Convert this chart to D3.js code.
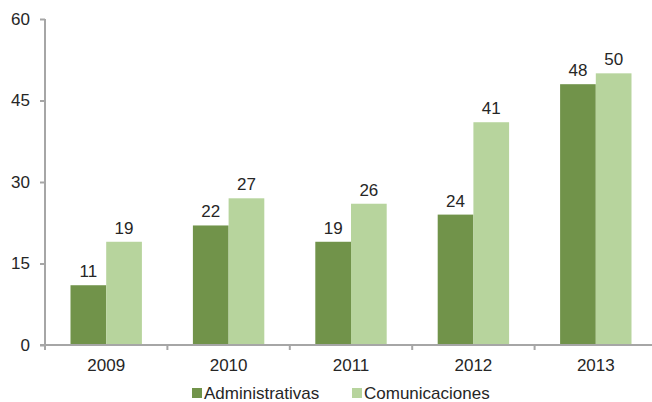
<!DOCTYPE html>
<html>
<head>
<meta charset="utf-8">
<script src="https://cdn.jsdelivr.net/npm/d3@7"></script>
<style>
  body { margin: 0; background: #fff; }
  text { font-family: "Liberation Sans", Arial, sans-serif; fill: #262626; }
</style>
</head>
<body>
<div id="chart"></div>
<script>
var years = ["2009", "2010", "2011", "2012", "2013"];
var administrativas = [11, 22, 19, 24, 48];
var comunicaciones = [19, 27, 26, 41, 50];
var seriesNames = ["Administrativas", "Comunicaciones"];
var yTicks = [0, 15, 30, 45, 60];

var width = 652, height = 402,
    mLeft = 45, mRight = 657, mTop = 19, mBottom = 345;
var colors = ["#71934a", "#b7d49d"];
var fs = "17px";

var svg = d3.select("#chart").append("svg")
    .attr("width", width)
    .attr("height", height);

var x = d3.scaleBand().domain(years).range([mLeft, mRight]).paddingInner(0).paddingOuter(0);
var x1 = d3.scaleBand().domain(seriesNames).range([25.5, x.bandwidth() - 25.5]);
var y = d3.scaleLinear().domain([0, 60]).range([mBottom, mTop]);

var data = years.map(function(d, i) {
    return {year: d, values: [administrativas[i], comunicaciones[i]]};
});

var groups = svg.selectAll("g.grp")
    .data(data)
    .enter().append("g")
    .attr("class", "grp")
    .attr("transform", function(d) { return "translate(" + x(d.year) + ",0)"; });

groups.selectAll("rect")
    .data(function(d) { return d.values.map(function(v, j) { return {name: seriesNames[j], value: v, j: j}; }); })
    .enter().append("rect")
    .attr("x", function(d) { return x1(d.name); })
    .attr("width", x1.bandwidth())
    .attr("y", function(d) { return y(d.value); })
    .attr("height", function(d) { return mBottom - y(d.value); })
    .attr("fill", function(d) { return colors[d.j]; });

groups.selectAll("text.val")
    .data(function(d) { return d.values.map(function(v, j) { return {name: seriesNames[j], value: v}; }); })
    .enter().append("text")
    .attr("class", "val")
    .attr("x", function(d) { return x1(d.name) + x1.bandwidth() / 2; })
    .attr("y", function(d) { return y(d.value) - 8; })
    .attr("text-anchor", "middle")
    .style("font-size", fs)
    .text(function(d) { return d.value; });

// y axis
var yAxis = svg.append("g")
    .attr("transform", "translate(" + mLeft + ",0)")
    .call(d3.axisLeft(y).tickValues(yTicks).tickSize(5).tickPadding(10));
yAxis.select(".domain").attr("stroke", "#a6a6a6").attr("stroke-width", 2).attr("d", "M0," + mTop + "V" + mBottom);
yAxis.selectAll(".tick line").attr("stroke", "#a6a6a6").attr("stroke-width", 2);
yAxis.selectAll(".tick text").style("font-size", fs).attr("fill", "#262626");

// x axis
var xAxis = svg.append("g")
    .attr("transform", "translate(0," + mBottom + ")")
    .call(d3.axisBottom(x).tickSize(0).tickPadding(14));
xAxis.select(".domain").attr("stroke", "#a6a6a6").attr("stroke-width", 2).attr("d", "M" + (mLeft - 5) + ",0H" + mRight);
xAxis.selectAll(".tick text").style("font-size", fs).attr("fill", "#262626");
xAxis.selectAll("line.sep")
    .data(years)
    .enter().append("line")
    .attr("class", "sep")
    .attr("x1", function(d) { return x(d); })
    .attr("x2", function(d) { return x(d); })
    .attr("y1", 0).attr("y2", 5)
    .attr("stroke", "#a6a6a6").attr("stroke-width", 2);

// legend
var legendX = [192, 352];
var legend = svg.selectAll("g.leg")
    .data(seriesNames)
    .enter().append("g")
    .attr("class", "leg")
    .attr("transform", function(d, i) { return "translate(" + legendX[i] + ",393)"; });
legend.append("rect")
    .attr("x", 0).attr("y", -5)
    .attr("width", 10).attr("height", 10)
    .attr("fill", function(d, i) { return colors[i]; });
legend.append("text")
    .attr("x", 12).attr("y", 0)
    .attr("dy", "0.35em")
    .style("font-size", fs)
    .text(function(d) { return d; });
</script>
</body>
</html>
